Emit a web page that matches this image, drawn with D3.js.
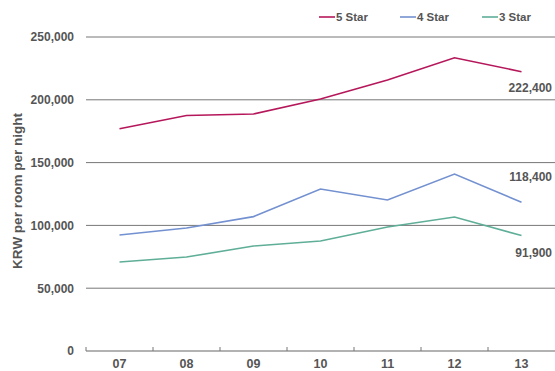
<!DOCTYPE html>
<html>
<head>
<meta charset="utf-8">
<script src="https://cdn.jsdelivr.net/npm/d3@7"></script>
<style>
  body { margin: 0; background: #fff; }
  svg { display: block; font-family: "Liberation Sans", Arial, sans-serif; }
</style>
</head>
<body>
<div id="chart"></div>
<script>
const years = ['07', '08', '09', '10', '11', '12', '13'];
const star5 = [177000, 187500, 188700, 200600, 215800, 233500, 222400];
const star4 = [92400, 97900, 107000, 129000, 120200, 140900, 118400];
const star3 = [70900, 74800, 83600, 87600, 98700, 106700, 91900];
const seriesNames = ['5 Star', '4 Star', '3 Star'];
const seriesColors = ['#b5175a', '#7391d0', '#5fae98'];
const yTicks = [0, 50000, 100000, 150000, 200000, 250000];

const W = 555, H = 371;
const margin = { top: 37, right: 0, bottom: 20, left: 86 };
const width = W - margin.left - margin.right;
const height = H - margin.top - margin.bottom;

const svg = d3.select('#chart').append('svg').attr('width', W).attr('height', H);
const g = svg.append('g').attr('transform', `translate(${margin.left},${margin.top})`);

const x = d3.scaleBand().domain(years).range([0, width]);
const y = d3.scaleLinear().domain([0, 250000]).range([height, 0]);

// gridlines
g.selectAll('.grid').data(yTicks.filter(d => d > 0)).enter().append('line')
  .attr('x1', 0).attr('x2', width)
  .attr('y1', d => y(d)).attr('y2', d => y(d))
  .attr('stroke', '#777').attr('stroke-width', 1);

// y tick labels
const yAxis = d3.axisLeft(y).tickValues(yTicks).tickSize(0).tickPadding(12)
  .tickFormat(d3.format(','));
g.append('g').call(yAxis)
  .call(s => s.select('.domain').remove())
  .selectAll('text')
  .attr('font-size', 12).attr('font-weight', 'bold').attr('fill', '#555');

// x axis
const xAxisG = g.append('g').attr('transform', `translate(0,${height})`);
xAxisG.append('line').attr('x1', 0).attr('x2', width).attr('stroke', '#999').attr('stroke-width', 1.5);
xAxisG.selectAll('.tk').data(years).enter().append('line')
  .attr('x1', d => x(d)).attr('x2', d => x(d))
  .attr('y1', 0).attr('y2', -4).attr('stroke', '#777');
xAxisG.selectAll('.lbl').data(years).enter().append('text')
  .attr('x', d => x(d) + x.bandwidth() / 2).attr('y', 17)
  .attr('text-anchor', 'middle').attr('font-size', 12.5).attr('font-weight', 'bold')
  .attr('fill', '#555').text(d => d);

// y label
svg.append('text')
  .attr('transform', `translate(22,191) rotate(-90)`)
  .attr('text-anchor', 'middle').attr('font-size', 13.5).attr('font-weight', 'bold')
  .attr('fill', '#555').text('KRW per room per night');

// lines
const allSeries = [star5, star4, star3];
const line = d3.line().x((d, i) => x(years[i]) + x.bandwidth() / 2).y(d => y(d));
allSeries.forEach((s, k) => {
  g.append('path').datum(s).attr('d', line)
    .attr('fill', 'none').attr('stroke', seriesColors[k]).attr('stroke-width', 1.6);
});

// end labels
const endLabelDy = [20, -21, 21];
allSeries.forEach((s, k) => {
  const last = s[s.length - 1];
  g.append('text')
    .attr('x', width - 3).attr('y', y(last) + endLabelDy[k])
    .attr('text-anchor', 'end').attr('font-size', 12).attr('font-weight', 'bold')
    .attr('fill', '#555').text(d3.format(',')(last));
});

// legend
const legendX = [319, 400, 482];
seriesNames.forEach((name, k) => {
  const lg = svg.append('g').attr('transform', `translate(${legendX[k]},17)`);
  lg.append('line').attr('x1', 0).attr('x2', 16).attr('stroke', seriesColors[k]).attr('stroke-width', 1.6);
  lg.append('text').attr('x', 17).attr('y', 4).attr('font-size', 11.5).attr('font-weight', 'bold')
    .attr('fill', '#555').text(name);
});
</script>
</body>
</html>
